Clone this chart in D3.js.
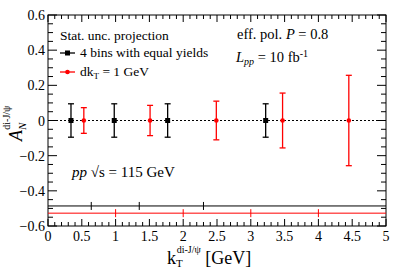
<!DOCTYPE html>
<html>
<head>
<meta charset="utf-8">
<script src="https://cdn.jsdelivr.net/npm/d3@7"></script>
<style>
  body { margin: 0; background: #fff; }
</style>
</head>
<body>
<div id="chart"></div>
<script>
// data
var blackK = [0.34, 0.98, 1.77, 3.22]
var blackA = [0, 0, 0, 0]
var blackErr = [0.095, 0.095, 0.095, 0.095]
var redK = [0.53, 1.51, 2.49, 3.47, 4.45]
var redA = [0, 0, 0, 0, 0]
var redErr = [0.073, 0.086, 0.11, 0.156, 0.257]
var blackEdges = [0.64, 1.35, 2.3]
var redEdges = [1, 2, 3, 4]
var blackLineY = -0.486
var redLineY = -0.527
var xTicks = [0, 0.5, 1, 1.5, 2, 2.5, 3, 3.5, 4, 4.5, 5]
var yTicks = [-0.6, -0.4, -0.2, 0, 0.2, 0.4, 0.6]

var width = 399
var height = 270
var margin = {left: 48, right: 13, top: 15, bottom: 44}
var serif = "'Liberation Serif', 'Times New Roman', 'DejaVu Serif', serif"

var svg = d3.select("#chart").append("svg")
  .attr("width", width)
  .attr("height", height)
  .attr("font-family", serif)

var x = d3.scaleLinear().domain([0, 5]).range([margin.left, width - margin.right])
var y = d3.scaleLinear().domain([-0.6, 0.6]).range([height - margin.bottom, margin.top])

var x0 = x.range()[0], x1 = x.range()[1]
var y0 = y.range()[0], y1 = y.range()[1]

function txt(px, py, size) {
  return svg.append("text").attr("x", px).attr("y", py)
    .style("font-family", serif).style("font-size", size + "px").attr("fill", "#000")
}

// frame
svg.append("rect")
  .attr("x", x0).attr("y", y1)
  .attr("width", x1 - x0).attr("height", y0 - y1)
  .attr("fill", "none").attr("stroke", "#000").attr("stroke-width", 1)

// ticks, ROOT style (inside, all four sides)
d3.range(0, 5.001, 0.1).forEach(function(v) {
  var major = Math.abs(v * 2 - Math.round(v * 2)) < 1e-6
  var len = major ? 7 : 4
  svg.append("line").attr("x1", x(v)).attr("x2", x(v)).attr("y1", y0).attr("y2", y0 - len).attr("stroke", "#000")
  svg.append("line").attr("x1", x(v)).attr("x2", x(v)).attr("y1", y1).attr("y2", y1 + len).attr("stroke", "#000")
})
d3.range(-0.6, 0.6001, 0.05).forEach(function(v) {
  var major = Math.abs(v * 5 - Math.round(v * 5)) < 1e-6
  var len = major ? 9 : 5
  svg.append("line").attr("y1", y(v)).attr("y2", y(v)).attr("x1", x0).attr("x2", x0 + len).attr("stroke", "#000")
  svg.append("line").attr("y1", y(v)).attr("y2", y(v)).attr("x1", x1).attr("x2", x1 - len).attr("stroke", "#000")
})

// tick labels
xTicks.forEach(function(d) {
  txt(x(d), y0 + 15, 14).attr("text-anchor", "middle").text(d)
})
yTicks.forEach(function(d) {
  txt(x0 - 3, y(d) + 5, 14).attr("text-anchor", "end")
    .text(d === 0 ? "0" : d3.format(".1f")(d).replace("-", "\u2212"))
})

// zero line
svg.append("line")
  .attr("x1", x0).attr("x2", x1).attr("y1", y(0)).attr("y2", y(0))
  .attr("stroke", "#000").attr("stroke-dasharray", "2,2")

// bin lines
svg.append("line").attr("x1", x0).attr("x2", x1).attr("y1", y(blackLineY)).attr("y2", y(blackLineY)).attr("stroke", "#000")
svg.append("line").attr("x1", x0).attr("x2", x1).attr("y1", y(redLineY)).attr("y2", y(redLineY)).attr("stroke", "red")
blackEdges.forEach(function(e) {
  svg.append("line").attr("x1", x(e)).attr("x2", x(e)).attr("y1", y(blackLineY) - 4).attr("y2", y(blackLineY) + 4).attr("stroke", "#000")
})
redEdges.forEach(function(e) {
  svg.append("line").attr("x1", x(e)).attr("x2", x(e)).attr("y1", y(redLineY) - 4).attr("y2", y(redLineY) + 4).attr("stroke", "red")
})

// error bars
function drawSeries(ks, as, errs, col, square) {
  var g = svg.append("g")
  ks.forEach(function(k, i) {
    var cx = x(k), top = y(as[i] + errs[i]), bot = y(as[i] - errs[i])
    g.append("line").attr("x1", cx).attr("x2", cx).attr("y1", top).attr("y2", bot).attr("stroke", col).attr("stroke-width", 1.3)
    g.append("line").attr("x1", cx - 3).attr("x2", cx + 3).attr("y1", top).attr("y2", top).attr("stroke", col).attr("stroke-width", 1.3)
    g.append("line").attr("x1", cx - 3).attr("x2", cx + 3).attr("y1", bot).attr("y2", bot).attr("stroke", col).attr("stroke-width", 1.3)
    if (square) {
      g.append("rect").attr("x", cx - 2.5).attr("y", y(as[i]) - 2.5).attr("width", 5).attr("height", 5).attr("fill", col)
    } else {
      g.append("circle").attr("cx", cx).attr("cy", y(as[i])).attr("r", 2.3).attr("fill", col)
    }
  })
}
drawSeries(blackK, blackA, blackErr, "#000", true)
drawSeries(redK, redA, redErr, "red", false)

// legend
txt(60, 40, 13.5).text("Stat. unc. projection")
svg.append("line").attr("x1", 60).attr("x2", 75).attr("y1", 53).attr("y2", 53).attr("stroke", "#000").attr("stroke-width", 1.3)
svg.append("rect").attr("x", 65).attr("y", 50.5).attr("width", 5).attr("height", 5).attr("fill", "#000")
txt(80, 57, 13.5).text("4 bins with equal yields")
svg.append("line").attr("x1", 60).attr("x2", 75).attr("y1", 72).attr("y2", 72).attr("stroke", "red").attr("stroke-width", 1.3)
svg.append("circle").attr("cx", 67.5).attr("cy", 72).attr("r", 2.3).attr("fill", "red")
var t = txt(80, 76, 13.5)
t.append("tspan").text("dk")
t.append("tspan").attr("dy", 3).style("font-size", "9px").text("T")
t.append("tspan").attr("dy", -3).text(" = 1 GeV")

// annotations
var e = txt(237, 39, 14.5)
e.append("tspan").text("eff. pol. ")
e.append("tspan").style("font-style", "italic").text("P")
e.append("tspan").text(" = 0.8")

var l = txt(236, 62, 14.5)
l.append("tspan").style("font-style", "italic").text("L")
l.append("tspan").attr("dy", 3).style("font-size", "10px").style("font-style", "italic").text("pp")
l.append("tspan").attr("dy", -3).text(" = 10 fb")
l.append("tspan").attr("dy", -5).style("font-size", "10px").text("-1")

var p = txt(72, 177, 15)
p.append("tspan").style("font-style", "italic").text("pp")
p.append("tspan").text(" \u221As = 115 GeV")

// axis titles
var xt = txt(167, 264, 18)
xt.append("tspan").text("k")
xt.append("tspan").attr("dy", 3).style("font-size", "11px").text("T")
xt.append("tspan").attr("dx", -6).attr("dy", -14).style("font-size", "10px").text("di-J/\u03C8")
xt.append("tspan").attr("dy", 11).text(" [GeV]")

var yt = svg.append("text").attr("transform", "translate(22,141) rotate(-90)")
  .style("font-family", serif).style("font-size", "18px")
yt.append("tspan").style("font-style", "italic").text("A")
yt.append("tspan").attr("dy", 4).style("font-size", "11px").style("font-style", "italic").text("N")
yt.append("tspan").attr("dx", -7).attr("dy", -16).style("font-size", "10px").text("di-J/\u03C8")
</script>
</body>
</html>
